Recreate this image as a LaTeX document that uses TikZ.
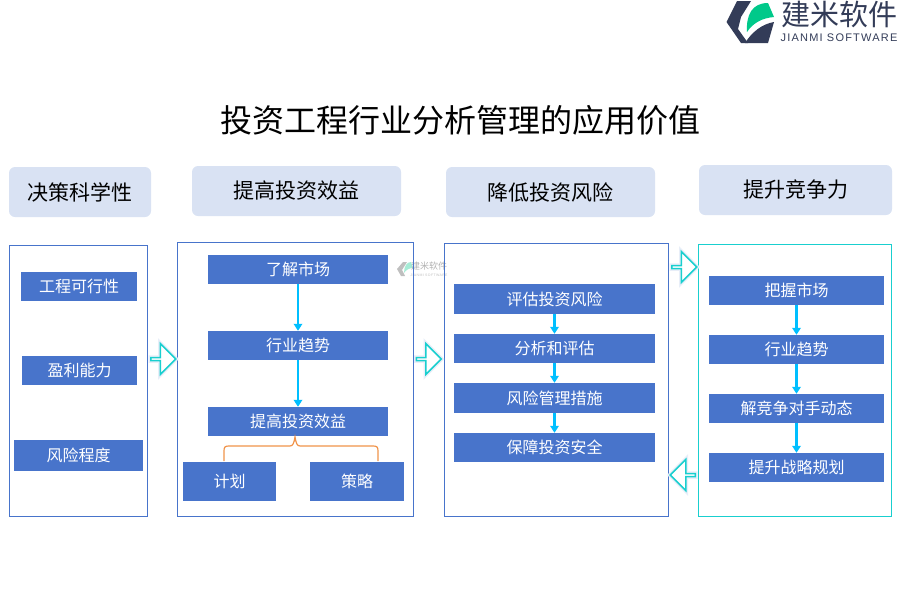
\documentclass[tikz,border=0pt]{standalone}
\usepackage{fontspec}
\setmainfont{Noto Sans CJK SC}
\newfontfamily\logolatin[LetterSpace=11]{Liberation Sans}
\usetikzlibrary{arrows.meta,shapes.arrows}
\definecolor{itemblue}{HTML}{4874CB}
\definecolor{headblue}{HTML}{D9E2F3}
\definecolor{flowcyan}{HTML}{00BFFF}
\definecolor{panelcyan}{HTML}{19CFCF}
\definecolor{bracecol}{HTML}{F0934A}
\definecolor{logodark}{HTML}{333C58}
\definecolor{logogreen}{HTML}{00C98A}
\tikzset{
  headbox/.style={fill=headblue, rounded corners=6pt, inner sep=0pt, font=\fontsize{21}{21}\selectfont, text=black},
  panelbox/.style={draw=itemblue, line width=1pt, inner sep=0pt},
  itembox/.style={fill=itemblue, inner sep=0pt, text=white, font=\fontsize{16}{16}\selectfont},
  flowarrow/.style={draw=flowcyan, line width=2.2pt, -{Triangle[length=7pt,width=8.5pt]}, shorten <=0pt},
  bigarrow/.style={single arrow, draw=panelcyan, fill=white, line width=1.5pt, minimum height=25pt, minimum width=31pt,
    single arrow head extend=7pt, single arrow tip angle=90, inner sep=0pt,
    preaction={draw=headblue!60, line width=4.5pt}}
}
\begin{document}
\begin{tikzpicture}[x=1pt,y=-1pt]
  \useasboundingbox (0,0) rectangle (900,600);
  % logo
  \fill[logodark] (737,1) -- (751,1) -- (741,17) -- (738,29) -- (748,43) -- (741,43) -- (726.5,22) -- cycle;
  \fill[logodark] (745,43) .. controls (752,32) and (762,24) .. (774,22) -- (768,43) -- cycle;
  \fill[logogreen] (747,32) .. controls (746,15) and (752,3) .. (768,3) -- (774,17) .. controls (762,18) and (753,23) .. (747,32) -- cycle;
  \node[text=logodark, font=\fontsize{29}{29}\selectfont, inner sep=0pt] (logotext) at (839.5,14) {建米软件};
  \node[text=logodark, font=\logolatin\fontsize{11}{11}\selectfont, inner sep=0pt] (logosub) at (839,38) {JIANMI SOFTWARE};
  % watermark
  \fill[black!25] (403,262) -- (407,262) -- (402,270) -- (405,276) -- (401,276) -- (397,269) -- cycle;
  \fill[logogreen!35] (404,273) .. controls (404,266) and (407,262) .. (411,262) -- (413,268) .. controls (409,268) and (406,270) .. (404,273) -- cycle;
  \node[text=black!30, font=\fontsize{9}{9}\selectfont, inner sep=0pt] (marktext) at (429,266.5) {建米软件};
  \node[text=black!25, font=\logolatin\fontsize{3.5}{3.5}\selectfont, inner sep=0pt] (marksub) at (429,275) {JIANMI SOFTWARE};
  % title
  \node[font=\fontsize{32}{32}\selectfont, text=black, inner sep=0pt] (title) at (460,120) {投资工程行业分析管理的应用价值};
  % heads
  \node[headbox, minimum width=142pt, minimum height=50pt] (headA) at (80,192) {决策科学性};
  \node[headbox, minimum width=209pt, minimum height=50pt] (headB) at (296.5,191) {提高投资效益};
  \node[headbox, minimum width=209pt, minimum height=50pt] (headC) at (550.5,192) {降低投资风险};
  \node[headbox, minimum width=193pt, minimum height=50pt] (headD) at (795.5,190) {提升竞争力};
  % panels
  \node[panelbox, minimum width=138pt, minimum height=271pt] (panelA) at (78.5,380.5) {};
  \node[panelbox, minimum width=236pt, minimum height=274pt] (panelB) at (295,379) {};
  \node[panelbox, minimum width=224pt, minimum height=273pt] (panelC) at (556,379.5) {};
  \node[panelbox, draw=panelcyan, minimum width=193pt, minimum height=272pt] (panelD) at (794.5,380) {};
  % first column
  \node[itembox, minimum width=116pt, minimum height=29pt] (feasible) at (79,286.5) {工程可行性};
  \node[itembox, minimum width=115pt, minimum height=29pt] (profit) at (79.5,370.5) {盈利能力};
  \node[itembox, minimum width=129pt, minimum height=31pt] (risk) at (78.5,455.5) {风险程度};
  % second column
  \node[itembox, minimum width=180pt, minimum height=29pt] (market) at (298,269.5) {了解市场};
  \node[itembox, minimum width=180pt, minimum height=29pt] (trend) at (298,345.5) {行业趋势};
  \node[itembox, minimum width=180pt, minimum height=29pt] (gain) at (298,421.5) {提高投资效益};
  \node[itembox, minimum width=93pt, minimum height=39pt] (plan) at (229.5,481.5) {计划};
  \node[itembox, minimum width=94pt, minimum height=39pt] (strategy) at (357,481.5) {策略};
  \draw[flowarrow] (market) -- (trend);
  \draw[flowarrow] (trend) -- (gain);
  \coordinate (braceL) at (224,461);
  \coordinate (braceR) at (378,461);
  \coordinate (braceT) at (295,437);
  \draw[bracecol, line width=1.2pt] (braceL) -- (224,451) .. controls (224,447) and (225,446) .. (229,446)
    -- (290,446) .. controls (293,446) and (294,443) .. (braceT) .. controls (296,443) and (297,446) .. (300,446)
    -- (373,446) .. controls (377,446) and (378,447) .. (378,451) -- (braceR);
  % third column
  \node[itembox, minimum width=201pt, minimum height=30pt] (assess) at (554.5,299) {评估投资风险};
  \node[itembox, minimum width=201pt, minimum height=29pt] (analyse) at (554.5,348.5) {分析和评估};
  \node[itembox, minimum width=201pt, minimum height=30pt] (measure) at (554.5,398) {风险管理措施};
  \node[itembox, minimum width=201pt, minimum height=29pt] (secure) at (554.5,447.5) {保障投资安全};
  \draw[flowarrow] (assess) -- (analyse);
  \draw[flowarrow] (analyse) -- (measure);
  \draw[flowarrow] (measure) -- (secure);
  % fourth column
  \node[itembox, minimum width=175pt, minimum height=29pt] (grasp) at (796.5,290.5) {把握市场};
  \node[itembox, minimum width=175pt, minimum height=29pt] (trendD) at (796.5,349.5) {行业趋势};
  \node[itembox, minimum width=175pt, minimum height=29pt] (rival) at (796.5,408.5) {解竞争对手动态};
  \node[itembox, minimum width=175pt, minimum height=29pt] (plan2) at (796.5,467.5) {提升战略规划};
  \draw[flowarrow] (grasp) -- (trendD);
  \draw[flowarrow] (trendD) -- (rival);
  \draw[flowarrow] (rival) -- (plan2);
  % big arrows
  \node[bigarrow] (arrowA) at (162.5,359) {};
  \node[bigarrow] (arrowB) at (428,359) {};
  \node[bigarrow] (arrowC) at (683.5,267) {};
  \node[bigarrow, shape border rotate=180] (arrowD) at (683.5,475) {};
\end{tikzpicture}
\end{document}
